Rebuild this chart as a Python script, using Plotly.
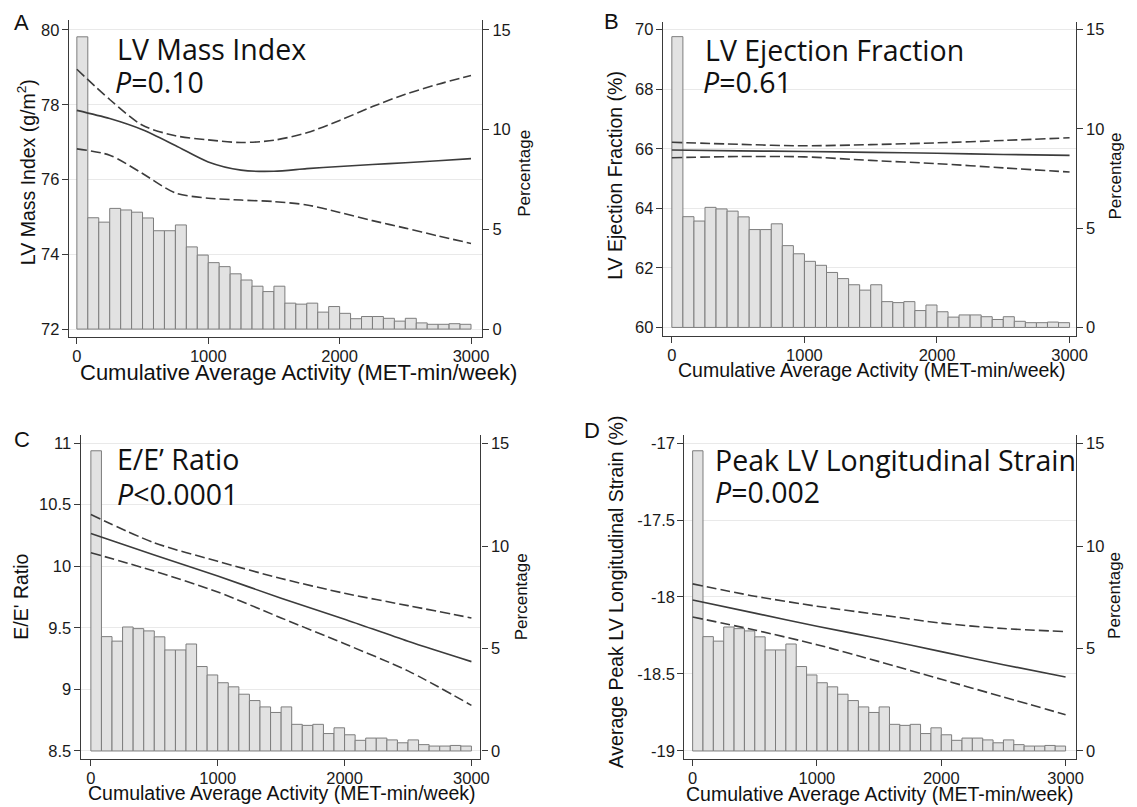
import numpy as np
import plotly.graph_objects as go

W, H = 1137, 807
OFF = 8  # default page body margin of the html page
FW, FH = W - OFF, H - OFF

# ---------------- data ----------------
# histogram of cumulative average activity (percentage per bin, 36 bins 0-3000)
bin_width = 3000 / 36
pct = [14.65, 5.58, 5.36, 6.05, 5.97, 5.86, 5.57, 4.93, 4.93, 5.22, 4.12, 3.71,
       3.33, 3.13, 2.77, 2.46, 2.15, 1.88, 2.15, 1.30, 1.25, 1.30, 0.85, 1.13,
       0.79, 0.52, 0.63, 0.63, 0.54, 0.40, 0.54, 0.31, 0.24, 0.24, 0.27, 0.24]
bin_left = np.arange(len(pct)) * bin_width

# Panel A: LV mass index
xa = [0, 250, 500, 750, 1000, 1250, 1500, 1750, 2000, 2250, 2500, 2750, 3000]
a_fit = [77.85, 77.63, 77.33, 76.91, 76.47, 76.25, 76.22, 76.29, 76.35, 76.40, 76.45, 76.50, 76.56]
a_hi = [78.95, 78.14, 77.45, 77.17, 77.06, 76.99, 77.05, 77.25, 77.58, 77.95, 78.28, 78.55, 78.78]
a_lo = [76.82, 76.65, 76.16, 75.64, 75.50, 75.45, 75.41, 75.32, 75.12, 74.90, 74.70, 74.49, 74.29]

# Panel B: LV ejection fraction
xb = [0, 500, 1000, 1500, 2000, 2500, 3000]
b_fit = [65.96, 65.93, 65.91, 65.88, 65.85, 65.81, 65.78]
b_hi = [66.22, 66.15, 66.10, 66.14, 66.20, 66.28, 66.37]
b_lo = [65.70, 65.74, 65.73, 65.61, 65.50, 65.36, 65.22]

# Panel C: E/E' ratio
xc = [0, 500, 1000, 1500, 2000, 2500, 3000]
c_fit = [10.265, 10.09, 9.92, 9.74, 9.57, 9.39, 9.225]
c_hi = [10.42, 10.19, 10.04, 9.90, 9.78, 9.68, 9.58]
c_lo = [10.11, 9.96, 9.79, 9.58, 9.37, 9.15, 8.87]

# Panel D: peak LV longitudinal strain
xd = [0, 500, 1000, 1500, 2000, 2500, 3000]
d_fit = [-18.02, -18.105, -18.19, -18.27, -18.355, -18.44, -18.52]
d_hi = [-17.915, -17.995, -18.06, -18.115, -18.17, -18.205, -18.225]
d_lo = [-18.13, -18.215, -18.31, -18.42, -18.535, -18.65, -18.765]

x_ticks = [0, 1000, 2000, 3000]
pct_ticks = [0, 5, 10, 15]

panels = [
    dict(letter="A", title="LV Mass Index", p="<i>P</i>=0.10",
         ylabel="LV Mass Index (g/m<sup>2</sup>)",
         x=xa, fit=a_fit, hi=a_hi, lo=a_lo, yticks=[72, 74, 76, 78, 80],
         ytext=["72", "74", "76", "78", "80"],
         dx=(69.5, 487), dy=(18.3, 336.5), xr=(-61, 3083), yr=(71.78, 80.26), pr=(-0.41, 15.48),
         letter_xy=(12, 21), t1=(116, 61), t2=(114, 94), yl=(27, 171), pl=(530, 172),
         xl=(302, 372), xl_size=22),
    dict(letter="B", title="LV Ejection Fraction", p="<i>P</i>=0.61",
         ylabel="LV Ejection Fraction (%)",
         x=xb, fit=b_fit, hi=b_hi, lo=b_lo, yticks=[60, 62, 64, 66, 68, 70],
         ytext=["60", "62", "64", "66", "68", "70"],
         dx=(670, 1087), dy=(20, 335), xr=(-67, 3045), yr=(59.72, 70.26), pr=(-0.42, 15.39),
         letter_xy=(608, 20), t1=(710, 62), t2=(708, 94), yl=(622, 174), pl=(1127, 175),
         xl=(881, 369), xl_size=19.5),
    dict(letter="C", title="E/E\u2019 Ratio", p="<i>P</i>&lt;0.0001",
         ylabel="E/E' Ratio",
         x=xc, fit=c_fit, hi=c_hi, lo=c_lo, yticks=[8.5, 9, 9.5, 10, 10.5, 11],
         ytext=["8.5", "9", "9.5", "10", "10.5", "11"],
         dx=(81.5, 485.5), dy=(435, 760), xr=(-80, 3071), yr=(8.433, 11.062), pr=(-0.40, 15.40),
         letter_xy=(12, 439), t1=(116, 472), t2=(116, 507), yl=(21, 597), pl=(527, 597),
         xl=(284.5, 794), xl_size=19.5),
    dict(letter="D", title="Peak LV Longitudinal Strain", p="<i>P</i>=0.002",
         ylabel="Average Peak LV Longitudinal Strain (%)",
         x=xd, fit=d_fit, hi=d_hi, lo=d_lo, yticks=[-19, -18.5, -18, -17.5, -17],
         ytext=["-19", "-18.5", "-18", "-17.5", "-17"],
         dx=(691.7, 1087), dy=(435, 760), xr=(-66, 3080), yr=(-19.054, -16.95), pr=(-0.40, 15.40),
         letter_xy=(588, 430), t1=(721, 473.5), t2=(721, 505.5), yl=(622, 592), pl=(1127, 596),
         xl=(889, 795), xl_size=19.5),
]


def px(xp):
    return (xp - OFF) / FW


def py(yp):
    return 1 - (yp - OFF) / FH


TICK_FONT = dict(family="Liberation Sans, Arial, sans-serif", size=16.5, color="#1a1a1a")
LABEL_FONT = "Liberation Sans, Arial, sans-serif"
TITLE_FONT = "Open Sans, Lato, sans-serif"
LINE_COL = "#3c3c3c"
AXIS_COL = "#3a3a3a"

fig = go.Figure()
layout = dict(width=FW, height=FH, margin=dict(l=0, r=0, t=0, b=0),
              paper_bgcolor="white", plot_bgcolor="white", showlegend=False)
annotations = []

for i, p in enumerate(panels, start=1):
    xname = "x" if i == 1 else f"x{i}"
    pid = 2 * i - 1
    mid = 2 * i
    pname = "y" if pid == 1 else f"y{pid}"
    mname = f"y{mid}"

    # histogram bars on the percentage (base) axis
    fig.add_trace(go.Bar(x=bin_left, y=pct, width=bin_width, offset=0,
                         marker=dict(color="#e2e2e2", line=dict(color="#7d7d7d", width=1)),
                         xaxis=xname, yaxis=pname, hoverinfo="skip"))
    # fitted curve and confidence band on the measure (overlay) axis
    for ys, dash in [(p["hi"], "10px,4px"), (p["lo"], "10px,4px"), (p["fit"], "solid")]:
        fig.add_trace(go.Scatter(x=p["x"], y=ys, mode="lines", xaxis=xname, yaxis=mname,
                                 line=dict(color=LINE_COL, width=1.6, dash=dash, shape="spline",
                                           smoothing=0.8),
                                 hoverinfo="skip"))

    xd0, xd1 = p["dx"]
    yd0, yd1 = p["dy"]
    xdom = [px(xd0), px(xd1)]
    ydom = [py(yd1), py(yd0)]

    layout[f"xaxis{'' if i == 1 else i}"] = dict(
        domain=xdom, range=list(p["xr"]), anchor=pname, tickvals=x_ticks,
        ticktext=[str(v) for v in x_ticks], ticks="outside", ticklen=6, tickwidth=1.2,
        tickcolor=AXIS_COL, showline=True, linecolor=AXIS_COL, linewidth=1.4,
        showgrid=False, zeroline=False, tickfont=TICK_FONT, ticklabelstandoff=-2)
    layout[f"yaxis{'' if pid == 1 else pid}"] = dict(
        domain=ydom, range=list(p["pr"]), anchor=xname, side="right", tickvals=pct_ticks,
        ticktext=[str(v) for v in pct_ticks], ticks="outside", ticklen=6, tickwidth=1.2,
        tickcolor=AXIS_COL, showline=True, linecolor=AXIS_COL, linewidth=1.4,
        showgrid=False, zeroline=False, tickfont=TICK_FONT)
    layout[f"yaxis{mid}"] = dict(
        overlaying=pname, range=list(p["yr"]), anchor=xname, side="left",
        tickvals=p["yticks"], ticktext=p["ytext"], ticks="outside", ticklen=6, tickwidth=1.2,
        tickcolor=AXIS_COL, showline=True, linecolor=AXIS_COL, linewidth=1.4,
        showgrid=True, gridcolor="#e9e9e9", gridwidth=1.3, zeroline=False, tickfont=TICK_FONT,
        ticklabelstandoff=-1)

    # panel letter
    lx, ly = p["letter_xy"]
    annotations.append(dict(text=p["letter"], x=px(lx), y=py(ly), xref="paper", yref="paper",
                            xanchor="left", yanchor="middle", showarrow=False,
                            font=dict(family=LABEL_FONT, size=22, color="#111")))
    # in-plot title and P value
    ts = 28.5
    t1x, t1y = p["t1"]
    t2x, t2y = p["t2"]
    annotations.append(dict(text=p["title"], x=px(t1x), y=py(t1y + 0.26 * ts), xref="paper",
                            yref="paper", xanchor="left", yanchor="bottom", showarrow=False,
                            font=dict(family=TITLE_FONT, size=ts, color="#111")))
    annotations.append(dict(text=p["p"], x=px(t2x), y=py(t2y + 0.26 * ts), xref="paper",
                            yref="paper", xanchor="left", yanchor="bottom", showarrow=False,
                            font=dict(family=TITLE_FONT, size=ts, color="#111")))
    # y-axis titles
    ylx, yly = p["yl"]
    annotations.append(dict(text=p["ylabel"], x=px(ylx), y=py(yly), xref="paper", yref="paper",
                            xanchor="center", yanchor="middle", textangle=-90, showarrow=False,
                            font=dict(family=LABEL_FONT, size=19.5, color="#111")))
    plx, ply = p["pl"]
    annotations.append(dict(text="Percentage", x=px(plx), y=py(ply), xref="paper", yref="paper",
                            xanchor="center", yanchor="middle", textangle=-90, showarrow=False,
                            font=dict(family=LABEL_FONT, size=17, color="#111")))
    # x-axis title
    xlx, xly = p["xl"]
    annotations.append(dict(text="Cumulative Average Activity (MET-min/week)", x=px(xlx),
                            y=py(xly), xref="paper", yref="paper", xanchor="center",
                            yanchor="middle", showarrow=False,
                            font=dict(family=LABEL_FONT, size=p["xl_size"], color="#111")))

layout["annotations"] = annotations
fig.update_layout(**layout)
fig.write_html("out.html")
